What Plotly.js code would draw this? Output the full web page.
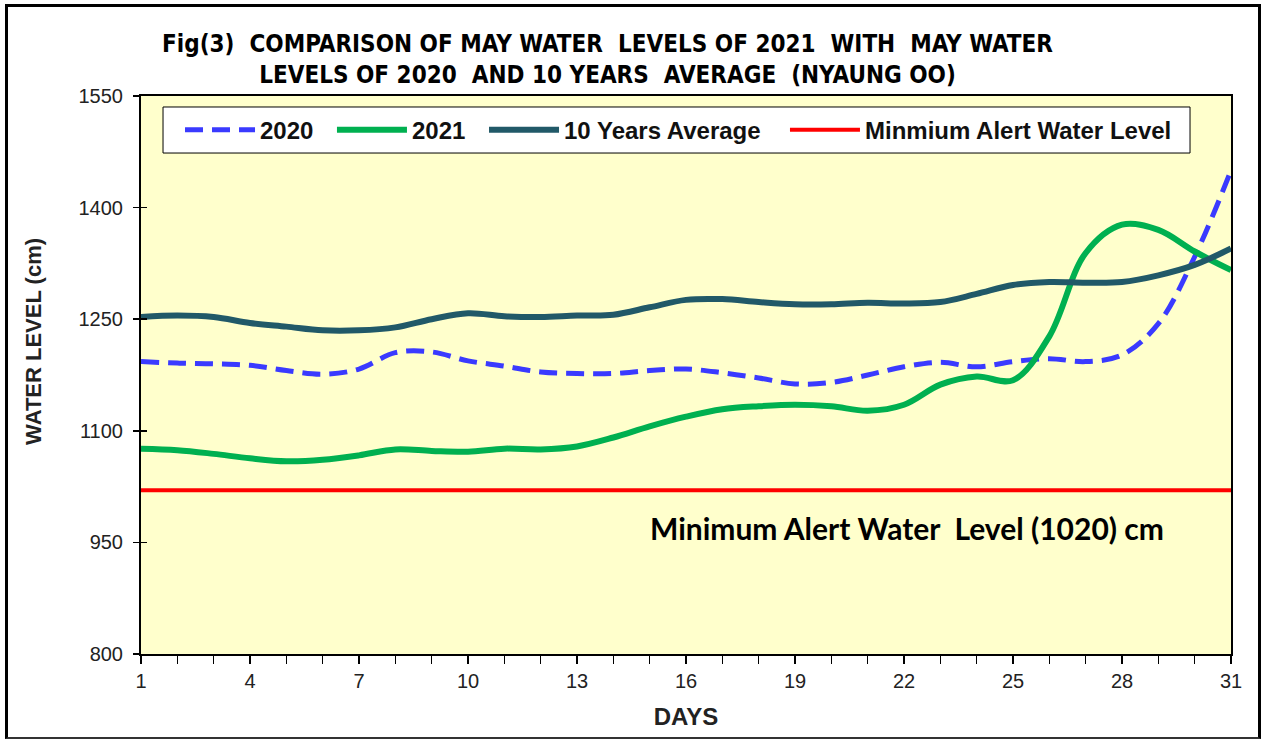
<!DOCTYPE html>
<html>
<head>
<meta charset="utf-8">
<script src="https://cdn.plot.ly/plotly-3.0.1.min.js"></script>
<style>
  html, body { margin: 0; padding: 0; background: #ffffff; }
  #wrap { position: relative; width: 1265px; height: 740px; }
  #chart { width: 1265px; height: 740px; }
  #frame { position: absolute; left: 5px; top: 4px; width: 1250px; height: 730px;
           border-left: 3px solid #000; border-top: 3px solid #000; border-right: 3px solid #000;
           border-bottom: 2px solid #333; pointer-events: none; }
</style>
</head>
<body>
<div id="wrap">
  <div id="chart"></div>
  <div id="frame"></div>
</div>
<script>
const days = [1,2,3,4,5,6,7,8,9,10,11,12,13,14,15,16,17,18,19,20,21,22,23,24,25,26,27,28,29,30,31];
const levels2020 = [1193,1191,1190,1188,1181,1176,1183,1205,1206,1194,1187,1179,1177,1177,1181,1183,1178,1171,1163,1165,1175,1186,1192,1186,1193,1197,1193,1202,1244,1334,1450];
const levels2021 = [1076,1074,1069,1063,1059,1061,1067,1075,1073,1072,1076,1075,1079,1091,1106,1119,1129,1133,1135,1133,1127,1135,1162,1173,1168,1227,1339,1377,1370,1341,1316];
const avg10yr = [1253,1255,1253,1245,1240,1235,1235,1239,1250,1258,1254,1253,1255,1256,1266,1276,1277,1273,1270,1270,1272,1271,1273,1284,1296,1300,1299,1300,1309,1323,1345];
const alertDays = [1,31];
const alertLevels = [1020,1020];
const seriesNames = ['2020','2021','10 Years Average','Minmium Alert Water Level'];
const xTickVals = [1,4,7,10,13,16,19,22,25,28,31];
const yTickVals = [800,950,1100,1250,1400,1550];

const traces = [
  {x: days, y: levels2020, name: seriesNames[0], type: 'scatter', mode: 'lines', legend: 'legend',
   line: {color: '#3a3aff', width: 5, dash: '18px,9px', shape: 'spline', smoothing: 1}},
  {x: days, y: levels2021, name: seriesNames[1], type: 'scatter', mode: 'lines', legend: 'legend2',
   line: {color: '#00b050', width: 6, shape: 'spline', smoothing: 1}},
  {x: days, y: avg10yr, name: seriesNames[2], type: 'scatter', mode: 'lines', legend: 'legend3',
   line: {color: '#215968', width: 6, shape: 'spline', smoothing: 1}},
  {x: alertDays, y: alertLevels, name: seriesNames[3], type: 'scatter', mode: 'lines', legend: 'legend4',
   line: {color: '#ff0000', width: 4}},
  // invisible helper so the inside tick marks of yaxis2 are drawn
  {x: alertDays, y: alertLevels, yaxis: 'y2', type: 'scatter', mode: 'lines',
   line: {width: 0}, showlegend: false, hoverinfo: 'skip'}
];

function legendAt(xp) {
  return {
    orientation: 'h', x: xp, xanchor: 'left', xref: 'paper',
    y: 0.939, yanchor: 'middle', yref: 'paper',
    bgcolor: 'rgba(0,0,0,0)', borderwidth: 0,
    font: {size: 24, weight: 'bold', color: '#111'},
    itemwidth: 70
  };
}

const layout = {
  width: 1265, height: 740,
  margin: {l: 141, r: 34, t: 96, b: 86},
  paper_bgcolor: 'rgba(0,0,0,0)',
  plot_bgcolor: '#ffffcc',
  font: {family: 'Liberation Sans, Arial, sans-serif', color: '#222'},
  title: {
    text: 'Fig(3)  COMPARISON OF MAY WATER  LEVELS OF 2021  WITH  MAY WATER<br>LEVELS OF 2020  AND 10 YEARS  AVERAGE  (NYAUNG OO)',
    font: {family: 'Liberation Sans Narrow, DejaVu Sans Condensed, Arial Narrow, sans-serif', size: 24, weight: 'bold', color: '#000'},
    x: 0.428, xanchor: 'center', xref: 'paper',
    y: 0.93, yanchor: 'middle'
  },
  xaxis: {
    range: [1, 31],
    tickmode: 'array', tickvals: xTickVals,
    ticks: 'outside', ticklen: 8, tickwidth: 1.5, tickcolor: '#000',
    minor: {dtick: 1, tick0: 1, ticks: 'outside', ticklen: 8, tickwidth: 1.5, tickcolor: '#000', showgrid: false},
    showgrid: false, zeroline: false,
    showline: true, linecolor: '#000', linewidth: 2, mirror: true,
    tickfont: {size: 20, color: '#222'},
    ticklabelstandoff: 0,
    title: {text: 'DAYS', font: {size: 24, weight: 'bold', color: '#222'}, standoff: 17}
  },
  yaxis: {
    range: [800, 1550],
    tickmode: 'array', tickvals: yTickVals,
    ticks: 'outside', ticklen: 6, tickwidth: 1.5, tickcolor: '#000',
    showgrid: false, zeroline: false,
    showline: true, linecolor: '#000', linewidth: 2, mirror: true,
    tickfont: {size: 20, color: '#222'},
    ticklabelstandoff: 6
  },
  yaxis2: {
    range: [800, 1550], overlaying: 'y', side: 'left',
    tickmode: 'array', tickvals: yTickVals,
    ticks: 'inside', ticklen: 6, tickwidth: 1.5, tickcolor: '#000',
    showticklabels: false, showgrid: false, zeroline: false, showline: false
  },
  showlegend: true,
  legend: legendAt(0.0358),
  legend2: legendAt(0.1752),
  legend3: legendAt(0.3147),
  legend4: legendAt(0.5908),
  shapes: [{
    type: 'rect', xref: 'paper', yref: 'paper',
    x0: 0.0202, x1: 0.9624, y0: 0.8978, y1: 0.9803,
    fillcolor: '#ffffff', line: {color: '#000', width: 1}, layer: 'above'
  }],
  annotations: [
    {
      text: 'Minimum Alert Water  Level (1020) cm',
      x: 22.08, y: 969, xref: 'x', yref: 'y',
      showarrow: false,
      font: {family: 'Lato, Noto Sans, sans-serif', size: 30, weight: 'bold', color: '#000'}
    },
    {
      text: 'WATER LEVEL (cm)',
      x: -0.0982, y: 0.561, xref: 'paper', yref: 'paper',
      xanchor: 'center', yanchor: 'middle', textangle: -90,
      showarrow: false,
      font: {size: 22, weight: 'bold', color: '#222'}
    }
  ]
};

Plotly.newPlot('chart', traces, layout, {displayModeBar: false, staticPlot: true});
</script>
</body>
</html>
